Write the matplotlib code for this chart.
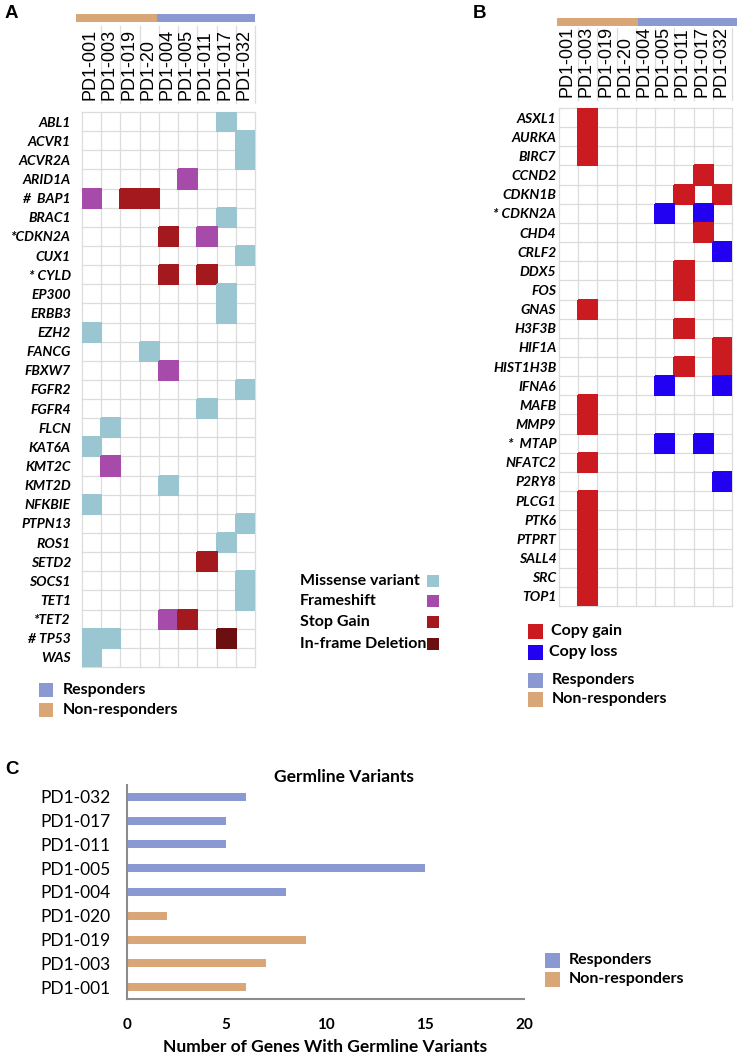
import numpy as np
import matplotlib.pyplot as plt
import matplotlib.transforms as mtransforms
from matplotlib.colors import ListedColormap
from matplotlib.patches import Rectangle
from matplotlib.lines import Line2D

W, H = 747, 1064

samples = ['PD1-001', 'PD1-003', 'PD1-019', 'PD1-20', 'PD1-004',
           'PD1-005', 'PD1-011', 'PD1-017', 'PD1-032']
groups = ['NR', 'NR', 'NR', 'NR', 'R', 'R', 'R', 'R', 'R']

# panel A: somatic mutations (M missense, F frameshift, S stop gain, D in-frame deletion)
genes_a = ['ABL1', 'ACVR1', 'ACVR2A', 'ARID1A', 'BAP1', 'BRAC1', 'CDKN2A', 'CUX1',
           'CYLD', 'EP300', 'ERBB3', 'EZH2', 'FANCG', 'FBXW7', 'FGFR2', 'FGFR4',
           'FLCN', 'KAT6A', 'KMT2C', 'KMT2D', 'NFKBIE', 'PTPN13', 'ROS1', 'SETD2',
           'SOCS1', 'TET1', 'TET2', 'TP53', 'WAS']
calls_a = [
    '.......M.',  # ABL1
    '........M',  # ACVR1
    '........M',  # ACVR2A
    '.....F...',  # ARID1A
    'F.SS.....',  # BAP1
    '.......M.',  # BRAC1
    '....S.F..',  # CDKN2A
    '........M',  # CUX1
    '....S.S..',  # CYLD
    '.......M.',  # EP300
    '.......M.',  # ERBB3
    'M........',  # EZH2
    '...M.....',  # FANCG
    '....F....',  # FBXW7
    '........M',  # FGFR2
    '......M..',  # FGFR4
    '.M.......',  # FLCN
    'M........',  # KAT6A
    '.F.......',  # KMT2C
    '....M....',  # KMT2D
    'M........',  # NFKBIE
    '........M',  # PTPN13
    '.......M.',  # ROS1
    '......S..',  # SETD2
    '........M',  # SOCS1
    '........M',  # TET1
    '....FS...',  # TET2
    'MM.....D.',  # TP53
    'M........',  # WAS
]
marks_a = {'BAP1': '#  ', 'CDKN2A': '*', 'CYLD': '* ', 'TET2': '*', 'TP53': '# '}
types_a = ['Missense variant', 'Frameshift', 'Stop Gain', 'In-frame Deletion']

# panel B: copy number (G gain, L loss)
genes_b = ['ASXL1', 'AURKA', 'BIRC7', 'CCND2', 'CDKN1B', 'CDKN2A', 'CHD4', 'CRLF2',
           'DDX5', 'FOS', 'GNAS', 'H3F3B', 'HIF1A', 'HIST1H3B', 'IFNA6', 'MAFB',
           'MMP9', 'MTAP', 'NFATC2', 'P2RY8', 'PLCG1', 'PTK6', 'PTPRT', 'SALL4',
           'SRC', 'TOP1']
calls_b = [
    '.G.......',  # ASXL1
    '.G.......',  # AURKA
    '.G.......',  # BIRC7
    '.......G.',  # CCND2
    '......G.G',  # CDKN1B
    '.....L.L.',  # CDKN2A
    '.......G.',  # CHD4
    '........L',  # CRLF2
    '......G..',  # DDX5
    '......G..',  # FOS
    '.G.......',  # GNAS
    '......G..',  # H3F3B
    '........G',  # HIF1A
    '......G.G',  # HIST1H3B
    '.....L..L',  # IFNA6
    '.G.......',  # MAFB
    '.G.......',  # MMP9
    '.....L.L.',  # MTAP
    '.G.......',  # NFATC2
    '........L',  # P2RY8
    '.G.......',  # PLCG1
    '.G.......',  # PTK6
    '.G.......',  # PTPRT
    '.G.......',  # SALL4
    '.G.......',  # SRC
    '.G.......',  # TOP1
]
marks_b = {'CDKN2A': '* ', 'MTAP': '*  '}
types_b = ['Copy gain', 'Copy loss']

# panel C: germline variants
germ_samples = ['PD1-001', 'PD1-003', 'PD1-019', 'PD1-020', 'PD1-004',
                'PD1-005', 'PD1-011', 'PD1-017', 'PD1-032']
germ_groups = ['NR', 'NR', 'NR', 'NR', 'R', 'R', 'R', 'R', 'R']
germ_counts = [6, 7, 9, 2, 8, 15, 5, 5, 6]

group_col = {'R': '#8B99D3', 'NR': '#D9A777'}
group_name = {'R': 'Responders', 'NR': 'Non-responders'}
col_a = ['white', '#9AC6D1', '#A64BA9', '#A4191D', '#6B0F11']
col_b = ['white', '#CC1B20', '#2200F2']
GRID = '#DCDCDC'

SANS = 'Lato'
ARIAL = 'Liberation Sans'

fig = plt.figure(figsize=(W / 100, H / 100), dpi=100)


def pxbox(x0, y0, x1, y1):
    return [x0 / W, 1 - y1 / H, (x1 - x0) / W, (y1 - y0) / H]


def heat(box, genes, calls, marks, codes, colors, pad, hdr, lab_bottom, sep_top):
    ax = fig.add_axes(pxbox(*box))
    mat = np.array([[codes.index(c) for c in row] for row in calls])
    n = len(genes)
    for i in range(n + 1):
        ax.axhline(i, color=GRID, lw=0.9, zorder=1, clip_on=False)
    for j in range(10):
        ax.axvline(j, color=GRID, lw=0.9, zorder=1, clip_on=False)
    ax.pcolormesh(np.ma.masked_where(mat == 0, mat), cmap=ListedColormap(colors),
                  vmin=-0.5, vmax=len(colors) - 0.5, edgecolors='face',
                  linewidth=0.3, zorder=3)
    ax.set_xlim(0, 9)
    ax.set_ylim(n, 0)
    ax.set_xticks([])
    ax.set_yticks(np.arange(n) + 0.5)
    ax.set_yticklabels([marks.get(g, '') + g for g in genes], fontfamily=SANS,
                       fontweight='bold', fontstyle='italic', fontsize=10)
    ax.tick_params(axis='y', length=0, pad=pad)
    for s in ax.spines.values():
        s.set_visible(False)

    trans = mtransforms.blended_transform_factory(ax.transData, fig.transFigure)
    for j, s in enumerate(samples):
        ax.text(j + 0.42, 1 - lab_bottom / H, s, rotation=90, ha='center', va='bottom',
                transform=trans, fontsize=13, family=ARIAL)
    for j in range(1, 10):
        ax.add_line(Line2D([j, j], [1 - (lab_bottom + 3) / H, 1 - sep_top / H],
                           transform=trans, color=GRID, lw=0.9, clip_on=False))
    # responder header bar
    x0, xs, x1, y0, y1 = hdr
    ax.add_patch(Rectangle((x0, 1 - y1 / H), xs - x0, (y1 - y0) / H, transform=trans,
                           color=group_col[groups[0]], clip_on=False, lw=0))
    ax.add_patch(Rectangle((xs, 1 - y1 / H), x1 - xs, (y1 - y0) / H, transform=trans,
                           color=group_col[groups[-1]], clip_on=False, lw=0))
    return ax


def legend_item(xsq, yc, size, color, text, xtext, fs=11.5):
    fig.add_artist(Rectangle((xsq / W, 1 - (yc + size / 2) / H), size / W, size / H,
                             transform=fig.transFigure, color=color, lw=0))
    fig.text(xtext / W, 1 - yc / H, text, ha='left', va='center', fontfamily=SANS,
             fontweight='bold', fontsize=fs)


# ---- panel A
heat((82, 112, 255, 667), genes_a, calls_a, marks_a, '.MFSD', col_a, 8,
     (-0.31, 3.9, 9.0, 14, 22), 100, 26)
for i, t in enumerate(types_a):
    yc = [581, 601, 622, 644][i]
    fig.text(300 / W, 1 - yc / H, t, ha='left', va='center', fontfamily=SANS,
             fontweight='bold', fontsize=11.5)
    fig.add_artist(Rectangle((427 / W, 1 - (yc + 6) / H), 12 / W, 12 / H,
                             transform=fig.transFigure, color=col_a[i + 1], lw=0))
legend_item(39, 690, 14, group_col['R'], group_name['R'], 63)
legend_item(39, 710, 14, group_col['NR'], group_name['NR'], 63)

# ---- panel B
heat((559, 108, 732, 606), genes_b, calls_b, marks_b, '.GL', col_b, 2,
     (-0.1, 4.1, 9.25, 18, 26), 97, 28)
legend_item(528, 631, 15, col_b[1], types_b[0], 551)
legend_item(528, 652, 15, col_b[2], types_b[1], 549)
legend_item(528, 680, 15, group_col['R'], group_name['R'], 552)
legend_item(528, 699, 15, group_col['NR'], group_name['NR'], 552)

# ---- panel C
axc = fig.add_axes(pxbox(127, 785, 524, 999))
ypos = np.arange(len(germ_samples))
axc.barh(ypos, germ_counts, height=0.34, color=[group_col[g] for g in germ_groups])
axc.set_xlim(0, 20)
axc.set_ylim(-0.5, len(germ_samples) - 0.5)
axc.set_yticks(ypos)
axc.set_yticklabels(germ_samples, fontfamily=SANS, fontsize=12.5)
axc.set_xticks([0, 5, 10, 15, 20])
axc.set_xticklabels(['0', '5', '10', '15', '20'], fontfamily=SANS,
                    fontweight='bold', fontsize=11)
axc.tick_params(axis='x', length=0, pad=14)
axc.tick_params(axis='y', length=0, pad=12)
for s in ['top', 'right']:
    axc.spines[s].set_visible(False)
for s in ['left', 'bottom']:
    axc.spines[s].set_color('#8C8C8C')
    axc.spines[s].set_linewidth(1.5)
fig.text(344 / W, 1 - 777 / H, 'Germline Variants', ha='center', va='center',
         fontfamily=SANS, fontweight='bold', fontsize=12.5)
fig.text(325 / W, 1 - 1047 / H, 'Number of Genes With Germline Variants', ha='center',
         va='center', fontfamily=SANS, fontweight='bold', fontsize=12.5)
legend_item(545, 960, 15, group_col['R'], group_name['R'], 569)
legend_item(545, 979, 15, group_col['NR'], group_name['NR'], 569)

# panel letters
for lab, x, y in [('A', 5, 14), ('B', 473, 14), ('C', 5, 769)]:
    fig.text(x / W, 1 - y / H, lab, ha='left', va='center', family=ARIAL,
             fontweight='bold', fontsize=13.5)

fig.savefig('out.png', dpi=100)
